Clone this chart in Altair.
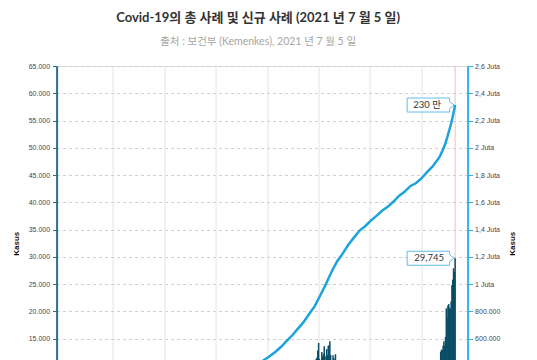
import altair as alt
import pandas as pd

# ---------------- data (Indonesia, daily new cases, 2 Mar 2020 - 5 Jul 2021) -------------
new_2020_03 = [2, 0, 0, 0, 0, 2, 2, 0, 13, 7, 7, 35, 27, 21, 17, 38, 55, 82, 60, 81, 64, 65, 106, 107, 152, 153, 109, 130, 129, 114]
new_2020_04 = [149, 113, 196, 106, 181, 218, 247, 218, 337, 219, 330, 399, 316, 282, 297, 380, 407, 325, 327, 185, 375, 283, 357, 436, 396, 275, 214, 415, 260, 347]
new_2020_05 = [433, 292, 349, 395, 484, 367, 338, 336, 533, 387, 233, 484, 689, 568, 490, 529, 489, 496, 486, 693, 973, 634, 949, 526, 479, 415, 686, 687, 678, 557, 700]
new_2020_06 = [467, 609, 684, 585, 703, 993, 672, 847, 1043, 1241, 979, 1111, 1014, 857, 1017, 1106, 1031, 1331, 1041, 1226, 862, 954, 1051, 1113, 1178, 1385, 1198, 1082, 1293, 1082]
new_2020_07 = [1385, 1624, 1301, 1447, 1607, 1209, 1268, 1853, 2657, 1611, 1671, 1681, 1282, 1591, 1522, 1574, 1462, 1752, 1639, 1693, 1655, 1906, 1812, 1761, 1868, 1492, 1525, 1748, 2381, 1904, 2040]
new_2020_08 = [1519, 1560, 1679, 1922, 1815, 1882, 2473, 2277, 1893, 1687, 1693, 1942, 2098, 2307, 2345, 2081, 1821, 1673, 1902, 2266, 2197, 2090, 1877, 2037, 2447, 2306, 2719, 3003, 3308, 2858, 2743]
new_2020_09 = [2775, 3075, 3622, 3269, 3128, 3444, 2880, 3046, 3307, 3861, 3737, 3806, 3636, 3141, 3507, 3963, 3635, 4176, 4168, 3989, 4071, 4071, 4465, 4634, 4823, 4494, 3874, 3509, 4002, 4284]
new_2020_10 = [4174, 4317, 4007, 3992, 3622, 4056, 4538, 4850, 4094, 4294, 3906, 3267, 3906, 4127, 4411, 4301, 4105, 3732, 3373, 3602, 4267, 4432, 4369, 4070, 3880, 3222, 3520, 3565, 2696, 2897, 3143]
new_2020_11 = [2618, 2973, 2868, 3356, 4065, 4262, 4262, 4777, 3880, 3779, 3770, 4173, 5444, 5272, 3535, 3807, 3807, 4265, 4798, 4792, 4998, 4360, 4442, 4192, 5534, 4917, 5828, 5418, 6267, 4617]
new_2020_12 = [5092, 5533, 8369, 5803, 6027, 6089, 5754, 5292, 6058, 6033, 6310, 6388, 5681, 5489, 6120, 7354, 7354, 6689, 6725, 6848, 6982, 6347, 7514, 7199, 6046, 5854, 6528, 6528, 7903, 8002, 8074]
new_2021_01 = [8072, 6895, 6877, 5854, 7445, 8854, 9321, 10617, 10046, 9640, 8692, 10047, 11278, 11557, 12818, 14224, 11287, 9086, 10365, 12568, 11703, 12191, 13632, 11788, 9994, 13094, 11948, 13695, 13802, 14518, 12001]
new_2021_02 = [10994, 10088, 11984, 11434, 10379, 12156, 10827, 8242, 8700, 8776, 8435, 9869, 7751, 6765, 6462, 10029, 9687, 9039, 8054, 7300, 7112, 10180, 9775, 8493, 8232, 8493, 6208, 5560]
new_2021_03 = [6680, 5712, 6808, 6825, 7264, 6371, 5318, 5189, 4849, 5926, 4852, 6039, 5116, 5123, 5217, 5620, 6003, 5871, 5919, 5785, 5277, 4672, 4944, 5303, 5279, 5676, 5057, 4446, 4810, 5164, 6155]
new_2021_04 = [5712, 4671, 4713, 4032, 3800, 4094, 5724, 6155, 5342, 4592, 5090, 4127, 5027, 5489, 5367, 5345, 4750, 4444, 4540, 6112, 5626, 5720, 6243, 5476, 4585, 4952, 5449, 5241, 5930, 5444]
new_2021_05 = [4889, 4696, 3797, 4369, 5285, 5647, 6130, 6130, 3871, 2385, 3922, 2633, 3448, 2475, 3080, 2113, 5125, 5281, 4871, 5746, 5797, 5296, 4893, 4345, 5057, 4878, 5907, 5869, 5748, 5585, 5048]
new_2021_06 = [4824, 5246, 5353, 6486, 6594, 6048, 6993, 6294, 7383, 8892, 8083, 7465, 9868, 8189, 8161, 9944, 12624, 12990, 12906, 13737, 14536, 13668, 15308, 20574, 18872, 21095, 21342, 20694, 20467, 21807]
new_2021_07 = [24836, 25830, 27913, 27233, 29745]

# cumulative total: weekly from 2 Mar 2020 to 14 Jun 2021, then daily to 5 Jul 2021
total_weekly = [2, 19, 134, 579, 1414,
                2491, 4557, 6760, 9096,
                11587, 14265, 18010, 22750,
                26940, 32033, 39294, 46845, 55092,
                64958, 76981, 88214, 100303,
                113134, 127083, 141370, 155412, 174796,
                196989, 221523, 248852, 278722,
                307120, 336716, 365240, 389712,
                415402, 444348, 470648, 502110, 538883,
                581550, 623309, 671778, 719219,
                779548, 836718, 917015, 999256,
                1089308, 1166079, 1223930, 1288833,
                1341314, 1392945, 1425044, 1465928, 1501093,
                1537967, 1566995, 1604348, 1647138,
                1677274, 1718575, 1739750, 1775220, 1821703,
                1863400, 1919547]
total_daily_end = [1927708, 1937652, 1950276, 1963266, 1976172, 1989909, 2004445,
                   2018113, 2033421, 2053995, 2072867, 2093962, 2115304, 2135998,
                   2156465, 2178272, 2203108, 2228938, 2256851, 2284084, 2313829]

total_label = ["230 만"]

left_ticks = [0, 5000, 10000, 15000, 20000, 25000, 30000, 35000, 40000, 45000, 50000, 55000, 60000, 65000]
right_ticks = [0, 200000, 400000, 600000, 800000, 1000000, 1200000, 1400000, 1600000, 1800000,
               2000000, 2200000, 2400000, 2600000]

title_text = "Covid-19의 총 사례 및 신규 사례 (2021 년 7 월 5 일)"
subtitle_text = "출처 : 보건부 (Kemenkes), 2021 년 7 월 5 일"

# ---------------- tables ----------------
months = [new_2020_03, new_2020_04, new_2020_05, new_2020_06, new_2020_07, new_2020_08,
          new_2020_09, new_2020_10, new_2020_11, new_2020_12, new_2021_01, new_2021_02,
          new_2021_03, new_2021_04, new_2021_05, new_2021_06, new_2021_07]
expected = [30, 30, 31, 30, 31, 31, 30, 31, 30, 31, 31, 28, 31, 30, 31, 30, 5]
for i, (m, e) in enumerate(zip(months, expected)):
    assert len(m) == e, (i, len(m), e)
daily = [v for m in months for v in m]
dates = pd.date_range("2020-03-02", periods=len(daily), freq="D")
df_new = pd.DataFrame({"date": dates, "new": daily})

assert len(total_weekly) == 68
cum_dates = list(pd.date_range("2020-03-02", periods=len(total_weekly), freq="7D")) + \
    list(pd.date_range("2021-06-15", periods=len(total_daily_end), freq="D"))
df_total = pd.DataFrame({"date": cum_dates, "total": total_weekly + total_daily_end})

df_new_last = df_new.iloc[[-1]].copy()
df_total_last = df_total.iloc[[-1]].copy()
df_total_last["label"] = total_label

# ---------------- style ----------------
FONT = "Lato, 'Noto Sans CJK KR', sans-serif"
AXIS_FONT = "Liberation Sans"
BAR_COLOR = "#0a4d66"
LINE_COLOR = "#1ba3dd"
LEFT_AXIS_COLOR = "#2d6e89"
RIGHT_AXIS_COLOR = "#33b0e3"

x_scale = alt.Scale(domain=[alt.DateTime(year=2020, month=3, date=2),
                            alt.DateTime(year=2021, month=7, date=14, hours=7)])
grid_dates = [alt.DateTime(year=2020, month=5, date=5), alt.DateTime(year=2020, month=7, date=8),
              alt.DateTime(year=2020, month=9, date=10), alt.DateTime(year=2020, month=11, date=13),
              alt.DateTime(year=2021, month=1, date=16), alt.DateTime(year=2021, month=3, date=21),
              alt.DateTime(year=2021, month=5, date=24)]

x_axis = alt.Axis(values=grid_dates, grid=True, gridColor="#e4e4e4", gridWidth=1,
                  domain=False, ticks=False, labels=False, title=None)

left_label = "replace(format(datum.value, ','), ',', '.')"
right_label = ("datum.value >= 1000000 ? replace(format(datum.value / 1000000, '.1~f'), '.', ',') + ' Juta' "
               ": replace(format(datum.value, ','), ',', '.')")

y_left_axis = alt.Axis(values=left_ticks, title="Kasus", orient="left", labelExpr=left_label,
                       labelFont=AXIS_FONT, labelFontSize=7, labelColor="#474452", labelPadding=3,
                       tickColor=LEFT_AXIS_COLOR, tickSize=4, tickWidth=1,
                       domainColor=LEFT_AXIS_COLOR, domainWidth=2,
                       grid=True, gridColor="#cfcfcf", gridDash=[3, 3], gridWidth=1,
                       titleFont=AXIS_FONT, titleFontSize=8, titleFontWeight="bold",
                       titleColor="#111111", titlePadding=8)
y_right_axis = alt.Axis(values=right_ticks, title="Kasus", orient="right", labelExpr=right_label,
                        labelFont=AXIS_FONT, labelFontSize=7, labelColor="#474452", labelPadding=2,
                        tickColor=RIGHT_AXIS_COLOR, tickSize=5, tickWidth=1,
                        domainColor=RIGHT_AXIS_COLOR, domainWidth=2, grid=False,
                        titleFont=AXIS_FONT, titleFontSize=8, titleFontWeight="bold",
                        titleColor="#111111", titleAngle=270, titlePadding=17)

left_scale = alt.Scale(domain=[0, 65000], nice=False)
right_scale = alt.Scale(domain=[0, 2600000], nice=False)

callout_path = "M-0.02,0L-0.11,-0.07L-0.11,-0.14L-0.96,-0.14L-0.96,0.14L-0.11,0.14L-0.11,0.07Z"

X_ENC = alt.X("date:T", scale=x_scale, axis=x_axis, title=None)
Y_NEW = alt.Y("new:Q", scale=left_scale, axis=y_left_axis, title="Kasus")
Y_TOTAL = alt.Y("total:Q", scale=right_scale, axis=y_right_axis, title="Kasus")

# ---------------- layers ----------------
today_rule = alt.Chart(df_new_last).mark_rule(color="#f6bcbc", strokeWidth=1).encode(x=X_ENC)

bars = alt.Chart(df_new).mark_bar(color=BAR_COLOR, size=1.5).encode(x=X_ENC, y=Y_NEW)

new_box = alt.Chart(df_new_last).mark_point(
    shape=callout_path, size=10000, filled=True, fill="white", stroke="#62bde4",
    strokeWidth=1, opacity=1).encode(x=X_ENC, y=Y_NEW)

new_text = alt.Chart(df_new_last).mark_text(
    font=FONT, fontSize=9.5, color="#333333", dx=-26, align="center", baseline="middle").encode(
    x=X_ENC, y=Y_NEW, text=alt.Text("new:Q", format=","))

line = alt.Chart(df_total).mark_line(color=LINE_COLOR, strokeWidth=2.5).encode(x=X_ENC, y=Y_TOTAL)

total_box = alt.Chart(df_total_last).mark_point(
    shape=callout_path, size=10000, filled=True, fill="white", stroke="#62bde4",
    strokeWidth=1, opacity=1).encode(x=X_ENC, y=Y_TOTAL)

total_text = alt.Chart(df_total_last).mark_text(
    font=FONT, fontSize=9.5, color="#333333", dx=-28, align="center", baseline="middle").encode(
    x=X_ENC, y=Y_TOTAL, text="label:N")

left_group = alt.layer(today_rule, bars, new_box, new_text)
right_group = alt.layer(line, total_box, total_text)

chart = alt.layer(left_group, right_group).resolve_scale(y="independent").properties(
    width=411, height=354.5,
    autosize="none",
    padding={"left": 56.6, "top": 66, "right": 69.4, "bottom": 40},
    title=alt.TitleParams(text=title_text, subtitle=subtitle_text, font=FONT, fontSize=13,
                          fontWeight="bold", color="#333333", subtitleFont=FONT,
                          subtitleFontSize=10.5, subtitleColor="#a6a6a6", anchor="middle",
                          offset=15, subtitlePadding=12, dx=-4),
).configure_view(strokeWidth=0).configure(background="white")

chart.save("out.html", embed_options={"renderer": "svg", "actions": False})
